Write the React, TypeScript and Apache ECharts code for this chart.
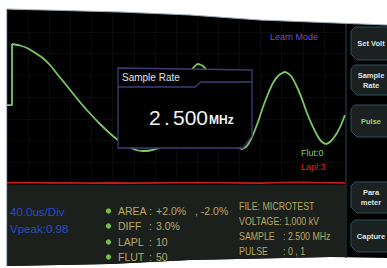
import React, { useEffect, useRef } from "react";
import * as echarts from "echarts";

// Waveform (time in divisions, amplitude in divisions)
const stepTime = [0, 0.237, 0.237];
const stepAmp = [-0.37, -0.37, 2.437];
const waveTime = [0.237, 0.615, 0.947, 1.231, 1.657, 2.036, 2.414, 2.84, 3.219, 3.55, 3.929, 4.402, 4.876, 5.254, 5.728, 6.107, 6.438, 6.769, 7.148, 7.432, 7.716, 8.0, 8.284, 8.568, 8.805, 9.041, 9.278, 9.515, 9.799, 10.083, 10.367, 10.651, 10.888, 11.124, 11.361, 11.598, 11.882, 12.118, 12.355, 12.592, 12.876, 13.16, 13.444, 13.728, 13.964, 14.201, 14.438, 14.675, 14.864, 15.101, 15.337, 15.621, 15.811, 16.0];
const waveAmp = [2.437, 2.368, 2.253, 2.092, 1.816, 1.471, 1.011, 0.506, 0.046, -0.345, -0.759, -1.241, -1.678, -1.977, -2.276, -2.437, -2.483, -2.46, -2.345, -1.977, -1.379, -0.644, 0.138, 0.874, 1.333, 1.517, 1.425, 1.103, 0.414, -0.368, -1.149, -1.839, -2.253, -2.391, -2.253, -1.839, -1.149, -0.46, 0.138, 0.644, 1.011, 1.149, 0.966, 0.46, -0.092, -0.736, -1.287, -1.747, -2.023, -2.161, -2.023, -1.655, -1.287, -0.828];
const redTime = [0, 1, 2, 3, 4, 5, 6, 7, 8, 9, 10, 11, 12, 13, 14, 15, 16];
const redAmp = [-3.94, -3.93, -3.95, -3.94, -3.96, -3.95, -3.96, -3.95, -3.94, -3.93, -3.94, -3.95, -3.96, -3.93, -3.92, -3.94, -3.95];

const statLabels = ["AREA", "DIFF", "LAPL", "FLUT"];
const statValues = ["+2.0%", "3.0%", "10", "50"];
const fileLabels = ["FILE: MICROTEST", "VOLTAGE: 1.000 kV", "SAMPLE", "PULSE"];
const fileValues = ["", "", ": 2.500 MHz", ": 0 , 1"];
const buttons = ["Set Volt", "Sample\nRate", "Pulse", "Para\nmeter", "Capture"];

const FONT = "'Liberation Sans', Arial, sans-serif";

export default function App() {
  const ref = useRef<HTMLDivElement>(null);
  useEffect(() => {
    const chart = echarts.init(ref.current!, null, { renderer: "svg" });
    const txt = (x: number, y: number, text: string, fill: string, fontSize: number, extra: any = {}, scaleX = 1) => ({
      type: "text",
      x,
      y,
      scaleX,
      z: extra.z ?? 20,
      style: {
        text,
        fill,
        fontSize,
        fontFamily: FONT,
        fontWeight: extra.fontWeight ?? "normal",
        textAlign: extra.align ?? "left",
        textVerticalAlign: "middle",
        align: extra.align ?? "left",
        verticalAlign: "middle",
        lineHeight: extra.lineHeight,
      },
    });
    const btnTops = [27, 65, 105, 182, 220];
    const btnBots = [60, 95, 137, 213, 252];
    const graphics: any[] = [];
    // screen body
    graphics.push({ type: "polygon", z: -5, shape: { points: [[7, 9], [387, 24], [387, 258], [330, 257], [190, 260], [110, 264], [7, 266]] }, style: { fill: "#000" } });
    // bottom panel
    graphics.push({ type: "polygon", z: -4, shape: { points: [[7, 185], [345, 185], [345, 257], [330, 257], [190, 260], [110, 264], [7, 266]] }, style: { fill: "#1c201c" } });
    // separator
    graphics.push({ type: "line", z: 5, shape: { x1: 346, y1: 20, x2: 346, y2: 258 }, style: { stroke: "#1f3a44", lineWidth: 1.2 } });
    // buttons
    buttons.forEach((b, i) => {
      const t = btnTops[i], bo = btnBots[i];
      graphics.push({ type: "polygon", z: 6, shape: { points: [[355, t], [390, t], [390, bo], [357, bo], [351, bo - 6], [351, t + 4]] }, style: { fill: "#1b2020", stroke: "#2c5360", lineWidth: 1 } });
      graphics.push(txt(371, (t + bo) / 2, b, i === 2 ? "#8fd86c" : "#dfe4e4", 7.5, { align: "center", fontWeight: "bold", lineHeight: 10, z: 7 }));
    });
    // sample rate box
    graphics.push({ type: "polygon", z: 10, shape: { points: [[118, 68], [252, 70], [252, 136], [243, 148], [118, 148]] }, style: { fill: "#000", stroke: "#3c3c74", lineWidth: 1.3 } });
    graphics.push({ type: "polyline", z: 11, shape: { points: [[118, 87], [195, 87], [201, 82], [252, 82]] }, style: { fill: null, stroke: "#3c3c74", lineWidth: 1.3 } });
    graphics.push(txt(122, 77, "Sample Rate", "#e4e4e4", 10, { z: 12 }));
    graphics.push(txt(149, 117, "2", "#f2f2f2", 21, { z: 12 }));
    graphics.push(txt(164, 117, ".", "#f2f2f2", 21, { z: 12 }));
    graphics.push(txt(173, 117, "500", "#f2f2f2", 21, { z: 12 }));
    graphics.push(txt(209, 120, "MHz", "#f2f2f2", 12, { z: 12, fontWeight: "bold" }));
    // labels on scope
    graphics.push(txt(294, 37, "Learn Mode", "#6e52d6", 9, { align: "center" }));
    graphics.push(txt(301, 153, "Flut:0", "#80d46a", 9));
    graphics.push(txt(301, 167, "Lapl:3", "#e02424", 9));
    // bottom panel texts
    graphics.push(txt(10, 212.5, "40.0us/Div", "#2a4bc6", 10.5, {}, 1.1));
    graphics.push(txt(10, 229, "Vpeak:0.98", "#2a4bc6", 10.5, {}, 1.1));
    const rows = [211, 226, 242, 257];
    statLabels.forEach((l, i) => {
      graphics.push({ type: "circle", z: 20, shape: { cx: 108.5, cy: rows[i], r: 2.6 }, style: { fill: "#76c043" } });
      graphics.push(txt(118, rows[i], l, "#b7a862", 10.5));
      graphics.push(txt(149, rows[i], ":", "#b7a862", 10.5));
      graphics.push(txt(156, rows[i], statValues[i], "#b7a862", 10.5));
    });
    graphics.push(txt(195, rows[0], ", -2.0%", "#b7a862", 10.5));
    const frows = [206, 221, 236, 251];
    fileLabels.forEach((l, i) => {
      graphics.push(txt(239, frows[i], l, "#b7a862", 10.5, {}, 0.84));
      if (fileValues[i]) graphics.push(txt(283, frows[i], fileValues[i], "#b7a862", 10.5, {}, 0.84));
    });
    // white area above sloped top edge + bezel
    const topEdge = [[7, 9], [120, 12], [190, 15], [260, 20], [387, 25]];
    graphics.push({ type: "polygon", z: 100, shape: { points: [[0, 0], [387, 0], ...topEdge.slice().reverse(), [0, 9]] }, style: { fill: "#fff" } });
    graphics.push({ type: "polyline", z: 101, shape: { points: topEdge }, style: { fill: null, stroke: "#9eacb8", lineWidth: 1.2 } });
    graphics.push({ type: "line", z: 101, shape: { x1: 6.5, y1: 9, x2: 6.5, y2: 266 }, style: { stroke: "#b5c2cc", lineWidth: 1.2 } });

    chart.setOption({
      animation: false,
      backgroundColor: "#fff",
      grid: { left: 7, top: 10, width: 338, height: 174, show: true, backgroundColor: "#000", borderWidth: 0 },
      xAxis: {
        type: "value", min: 0, max: 16, interval: 1,
        axisLine: { show: false }, axisTick: { show: false }, axisLabel: { show: false },
        splitLine: { show: true, lineStyle: { color: "#0b0b0b", width: 1 } },
      },
      yAxis: {
        type: "value", min: -4, max: 4, interval: 1,
        axisLine: { show: false }, axisTick: { show: false }, axisLabel: { show: false },
        splitLine: { show: true, lineStyle: { color: "#0b0b0b", width: 1 } },
      },
      series: [
        { type: "line", data: stepTime.map((t, i) => [t, stepAmp[i]]), showSymbol: false, lineStyle: { color: "#7cc862", width: 1.8 }, z: 3 },
        { type: "line", data: waveTime.map((t, i) => [t, waveAmp[i]]), smooth: 0.2, showSymbol: false, lineStyle: { color: "#7cc862", width: 1.8 }, z: 3 },
        { type: "line", data: redTime.map((t, i) => [t, redAmp[i]]), showSymbol: false, lineStyle: { color: "#c81c1c", width: 1.6 }, z: 3 },
      ],
      graphic: { elements: graphics },
    });
    return () => chart.dispose();
  }, []);
  return <div ref={ref} style={{ position: "fixed", left: 0, top: 0, width: 387, height: 268 }} />;
}
